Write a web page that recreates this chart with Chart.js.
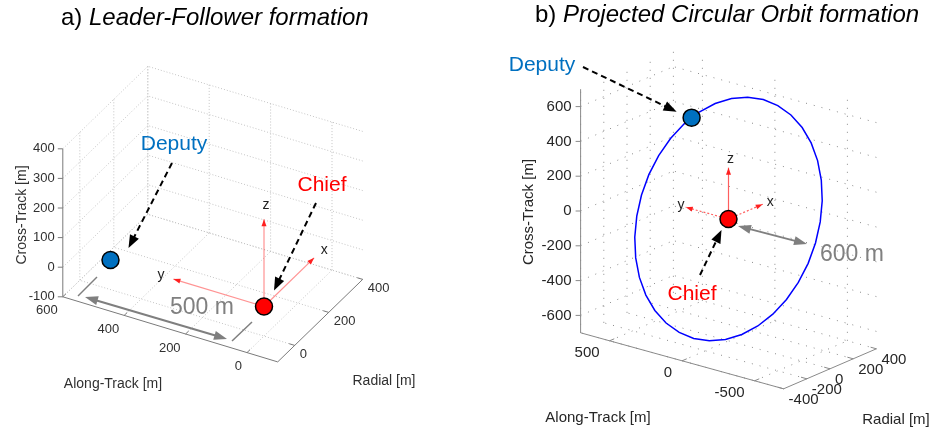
<!DOCTYPE html>
<html>
<head>
<meta charset="utf-8">
<script src="https://cdn.jsdelivr.net/npm/chart.js@4.4.1/dist/chart.umd.min.js"></script>
<style>
  body { margin: 0; background: #fff; }
  #contenedor { position: relative; width: 941px; height: 439px; font-family: "Liberation Sans", Arial, sans-serif; }
  canvas { position: absolute; top: 0; }
  .titulo { position: absolute; font-size: 24px; line-height: 26px; color: #000; white-space: nowrap; }
</style>
</head>
<body>
<div id="contenedor">
  <canvas id="graficoLF" width="470" height="439" style="left:0"></canvas>
  <canvas id="graficoPCO" width="471" height="439" style="left:470px"></canvas>
  <div class="titulo" style="left:61px; top:4px">a) <i>Leader-Follower formation</i></div>
  <div class="titulo" style="left:535px; top:1px">b) <i>Projected Circular Orbit formation</i></div>
</div>
<script>
// Posiciones relativas [along, radial, cross] en metros

// a) Leader-Follower
const deputyLF = [500, 0, 0];
const chiefLF = [0, 0, 0];
const limAlongLF = [-100, 600];
const limRadialLF = [-100, 400];
const limCrossLF = [-100, 400];
const ticksAlongLF = [0, 200, 400, 600];
const ticksRadialLF = [0, 200, 400];
const ticksCrossLF = [-100, 0, 100, 200, 300, 400];

// b) Projected Circular Orbit
const orbitaAlong = [600, 591, 564, 520, 460, 386, 300, 205, 104, 0, -104, -205, -300, -386, -460, -520, -564, -591,
    -600, -591, -564, -520, -460, -386, -300, -205, -104, 0, 104, 205, 300, 386, 460, 520, 564, 591];
const orbitaRadial = [0, 52, 103, 150, 193, 230, 260, 282, 295, 300, 295, 282, 260, 230, 193, 150, 103, 52,
    0, -52, -103, -150, -193, -230, -260, -282, -295, -300, -295, -282, -260, -230, -193, -150, -103, -52];
const orbitaCross = [0, 104, 205, 300, 386, 460, 520, 564, 591, 600, 591, 564, 520, 460, 386, 300, 205, 104,
    0, -104, -205, -300, -386, -460, -520, -564, -591, -600, -591, -564, -520, -460, -386, -300, -205, -104];
const deputyPCO = [424, 212, 424];
const chiefPCO = [0, 0, 0];
const limAlongPCO = [-700, 700];
const limRadialPCO = [-400, 400];
const limCrossPCO = [-700, 700];
const ticksAlongPCO = [-500, 0, 500];
const ticksRadialPCO = [-400, -200, 0, 200, 400];
const ticksCrossPCO = [-600, -400, -200, 0, 200, 400, 600];

// Longitud de los ejes x, y, z del marco del chief
const largoMarco = 295;

const FUENTE = '"Liberation Sans", Arial, sans-serif';

// Vistas: origen (proyeccion del punto 0,0,0) y direccion de cada eje por metro
const vistaLF = { origen: [264, 306.5], along: [-0.307, -0.093], radial: [0.17, -0.165], cross: [0, -0.296] };
const vistaPCO = { origen: [258.5, 219], along: [-0.145, -0.040], radial: [0.116, -0.050], cross: [0, -0.174] };

function proyectar(vista, p) {
    return {
        x: vista.origen[0] + p[0] * vista.along[0] + p[1] * vista.radial[0] + p[2] * vista.cross[0],
        y: vista.origen[1] + p[0] * vista.along[1] + p[1] * vista.radial[1] + p[2] * vista.cross[1]
    };
}

function aPixel(chart, x, y) {
    return [chart.scales.x.getPixelForValue(x), chart.scales.y.getPixelForValue(y)];
}

function punto3D(chart, vista, p) {
    const q = proyectar(vista, p);
    return aPixel(chart, q.x, q.y);
}

function linea(ctx, a, b) {
    ctx.beginPath();
    ctx.moveTo(a[0], a[1]);
    ctx.lineTo(b[0], b[1]);
    ctx.stroke();
}

function cabeza(ctx, desde, hasta, largo, ancho, color) {
    const ang = Math.atan2(hasta[1] - desde[1], hasta[0] - desde[0]);
    ctx.save();
    ctx.translate(hasta[0], hasta[1]);
    ctx.rotate(ang);
    ctx.fillStyle = color;
    ctx.beginPath();
    ctx.moveTo(0, 0);
    ctx.lineTo(-largo, ancho / 2);
    ctx.lineTo(-largo, -ancho / 2);
    ctx.closePath();
    ctx.fill();
    ctx.restore();
}

function flecha(ctx, desde, hasta, o) {
    const dx = hasta[0] - desde[0], dy = hasta[1] - desde[1];
    const L = Math.hypot(dx, dy), ux = dx / L, uy = dy / L;
    const fin = [hasta[0] - ux * o.largo * 0.8, hasta[1] - uy * o.largo * 0.8];
    const ini = o.doble ? [desde[0] + ux * o.largo * 0.8, desde[1] + uy * o.largo * 0.8] : desde;
    ctx.save();
    ctx.strokeStyle = o.color;
    ctx.lineWidth = o.grosor;
    ctx.setLineDash(o.guiones || []);
    linea(ctx, ini, fin);
    ctx.restore();
    cabeza(ctx, desde, hasta, o.largo, o.ancho, o.color);
    if (o.doble) cabeza(ctx, hasta, desde, o.largo, o.ancho, o.color);
}

function texto(ctx, s, x, y, tam, color, align, rot) {
    ctx.save();
    ctx.font = tam + 'px ' + FUENTE;
    ctx.fillStyle = color;
    ctx.textAlign = align || 'center';
    ctx.textBaseline = 'middle';
    ctx.translate(x, y);
    if (rot) ctx.rotate(rot);
    ctx.fillText(s, 0, 0);
    ctx.restore();
}

// Caja 3D estilo MATLAB: rejilla en piso y paredes del fondo, ejes y etiquetas
function pluginEjes(cfg) {
    return {
        id: 'ejes3d',
        beforeDatasetsDraw(chart) {
            const ctx = chart.ctx;
            const P = p => punto3D(chart, cfg.vista, p);
            const [a0, a1] = cfg.limAlong, [r0, r1] = cfg.limRadial, [c0, c1] = cfg.limCross;
            ctx.save();
            ctx.strokeStyle = cfg.colorRejilla;
            ctx.lineWidth = 1;
            ctx.setLineDash(cfg.guionRejilla);
            // piso
            cfg.ticksAlong.forEach(a => linea(ctx, P([a, r0, c0]), P([a, r1, c0])));
            cfg.ticksRadial.forEach(r => linea(ctx, P([a0, r, c0]), P([a1, r, c0])));
            // pared del fondo
            cfg.ticksAlong.forEach(a => linea(ctx, P([a, r1, c0]), P([a, r1, c1])));
            cfg.ticksCross.forEach(c => linea(ctx, P([a0, r1, c]), P([a1, r1, c])));
            // pared izquierda
            cfg.ticksRadial.forEach(r => linea(ctx, P([a1, r, c0]), P([a1, r, c1])));
            cfg.ticksCross.forEach(c => linea(ctx, P([a1, r0, c]), P([a1, r1, c])));
            ctx.setLineDash([]);

            // lineas de los ejes
            ctx.strokeStyle = cfg.colorEje;
            linea(ctx, P([a1, r0, c0]), P([a1, r0, c1]));
            linea(ctx, P([a1, r0, c0]), P([a0, r0, c0]));
            linea(ctx, P([a0, r0, c0]), P([a0, r1, c0]));

            // marcas y etiquetas
            const e = cfg.etiquetas;
            cfg.ticksCross.forEach(c => {
                const q = P([a1, r0, c]);
                linea(ctx, q, [q[0] - 5, q[1]]);
                texto(ctx, String(c), q[0] + e.cross[0], q[1] + e.cross[1], cfg.tamTick, cfg.colorTexto, 'right');
            });
            cfg.ticksAlong.forEach(a => {
                const q = P([a, r0, c0]);
                linea(ctx, q, P([a, r0 + cfg.marca[1], c0]));
                texto(ctx, String(a), q[0] + e.along[0], q[1] + e.along[1], cfg.tamTick, cfg.colorTexto, 'right');
            });
            cfg.ticksRadial.forEach(r => {
                const q = P([a0, r, c0]);
                linea(ctx, q, P([a0 + cfg.marca[0], r, c0]));
                texto(ctx, String(r), q[0] + e.radial[0], q[1] + e.radial[1], cfg.tamTick, cfg.colorTexto, 'left');
            });

            // titulos de los ejes
            const t = cfg.titulos;
            texto(ctx, 'Cross-Track [m]', t.cross[0], t.cross[1], cfg.tamTitulo, cfg.colorTexto, 'center', -Math.PI / 2);
            texto(ctx, 'Along-Track [m]', t.along[0], t.along[1], cfg.tamTitulo, cfg.colorTexto, 'center');
            texto(ctx, 'Radial [m]', t.radial[0], t.radial[1], cfg.tamTitulo, cfg.colorTexto, 'center');
            ctx.restore();
        },
        afterDatasetsDraw(chart) {
            cfg.anotar(chart);
        }
    };
}

// Ejes x (radial), y (along), z (cross) del marco del chief
function extremosMarco(chief) {
    return [
        ['x', [chief[0], chief[1] + largoMarco, chief[2]]],
        ['y', [chief[0] + largoMarco, chief[1], chief[2]]],
        ['z', [chief[0], chief[1], chief[2] + largoMarco]]
    ];
}

function datasetsMarco(vista, chief, color, guionesXY) {
    return extremosMarco(chief).map(([nombre, fin]) => ({
        data: [proyectar(vista, chief), proyectar(vista, fin)],
        showLine: true,
        borderColor: color,
        borderWidth: 1.2,
        borderDash: nombre === 'z' ? [] : guionesXY,
        pointRadius: 0
    }));
}

function anotarMarco(chart, vista, chief) {
    const ctx = chart.ctx;
    const centro = punto3D(chart, vista, chief);
    extremosMarco(chief).forEach(([nombre, fin]) => {
        const punta = punto3D(chart, vista, fin);
        cabeza(ctx, centro, punta, 7, 5, '#ff2020');
        const k = 1.16;
        const et = punto3D(chart, vista, [chief[0] + (fin[0] - chief[0]) * k, chief[1] + (fin[1] - chief[1]) * k, chief[2] + (fin[2] - chief[2]) * k]);
        texto(ctx, nombre, et[0] + 2, et[1], 14, '#222', 'center');
    });
}

function marcador(vista, p, color) {
    return {
        data: [proyectar(vista, p)],
        pointRadius: 8.5,
        pointBackgroundColor: color,
        pointBorderColor: '#000',
        pointBorderWidth: 1.5
    };
}

const cfgLF = {
    vista: vistaLF,
    limAlong: limAlongLF, limRadial: limRadialLF, limCross: limCrossLF,
    ticksAlong: ticksAlongLF, ticksRadial: ticksRadialLF, ticksCross: ticksCrossLF,
    colorRejilla: '#c4c4c4', guionRejilla: [1, 2], colorEje: '#7a7a7a', colorTexto: '#303030',
    tamTick: 13, tamTitulo: 14, marca: [18, 18],
    etiquetas: { cross: [-8, 0], along: [-5, 14], radial: [5, 9] },
    titulos: { cross: [22, 215], along: [113, 384], radial: [384, 381] },
    anotar(chart) {
        const ctx = chart.ctx;
        const dep = punto3D(chart, vistaLF, deputyLF);
        const chi = punto3D(chart, vistaLF, chiefLF);
        const V = (x, y) => aPixel(chart, x, y);
        anotarMarco(chart, vistaLF, chiefLF);
        const negra = { color: '#000', grosor: 2, guiones: [6, 4], largo: 13, ancho: 10 };
        texto(ctx, 'Deputy', ...V(174, 144), 21, '#0070C0');
        flecha(ctx, V(172, 163), [dep[0] + 18, dep[1] - 12], negra);
        texto(ctx, 'Chief', ...V(322, 185), 21, '#ff0000');
        flecha(ctx, V(316, 203), [chi[0] + 10, chi[1] - 16], negra);
        // cota de 500 m
        const gris = { color: '#7f7f7f', grosor: 2, largo: 13, ancho: 9, doble: true };
        flecha(ctx, V(85, 297), V(227, 339), gris);
        ctx.save();
        ctx.strokeStyle = '#7f7f7f';
        ctx.lineWidth = 1.5;
        linea(ctx, V(78, 296), V(97, 277));
        linea(ctx, V(232, 341), V(252, 322));
        ctx.restore();
        texto(ctx, '500 m', ...V(202, 308), 23, '#808080');
    }
};

const cfgPCO = {
    vista: vistaPCO,
    limAlong: limAlongPCO, limRadial: limRadialPCO, limCross: limCrossPCO,
    ticksAlong: ticksAlongPCO, ticksRadial: ticksRadialPCO, ticksCross: ticksCrossPCO,
    colorRejilla: '#8a8a8a', guionRejilla: [1, 7], colorEje: '#8a8a8a', colorTexto: '#262626',
    tamTick: 15, tamTitulo: 15, marca: [40, 40],
    etiquetas: { cross: [-9, 0], along: [-10, 12], radial: [5, 11] },
    titulos: { cross: [59, 212], along: [128, 418], radial: [426, 420] },
    anotar(chart) {
        const ctx = chart.ctx;
        const dep = punto3D(chart, vistaPCO, deputyPCO);
        const chi = punto3D(chart, vistaPCO, chiefPCO);
        const V = (x, y) => aPixel(chart, x, y);
        anotarMarco(chart, vistaPCO, chiefPCO);
        const negra = { color: '#000', grosor: 2, guiones: [6, 4], largo: 13, ancho: 10 };
        texto(ctx, 'Deputy', ...V(72, 65), 21, '#0070C0');
        flecha(ctx, V(113, 67), [dep[0] - 15, dep[1] - 6], negra);
        texto(ctx, 'Chief', ...V(222, 294), 21, '#ff0000');
        flecha(ctx, V(230, 275), [chi[0] - 7, chi[1] + 11], negra);
        const gris = { color: '#7f7f7f', grosor: 2, largo: 13, ancho: 9, doble: true };
        flecha(ctx, V(268, 226), V(337, 244), gris);
        texto(ctx, '600 m', ...V(382, 255), 23, '#808080');
    }
};

function opciones(ancho) {
    return {
        responsive: false,
        animation: false,
        events: [],
        devicePixelRatio: 1,
        layout: { padding: 0, autoPadding: false },
        plugins: { legend: { display: false }, tooltip: { enabled: false } },
        scales: {
            x: { type: 'linear', display: false, min: 0, max: ancho, bounds: 'data' },
            y: { type: 'linear', display: false, min: 0, max: 439, reverse: true, bounds: 'data' }
        }
    };
}

// a) Leader-Follower
new Chart(document.getElementById('graficoLF'), {
    type: 'scatter',
    data: {
        datasets: [
            marcador(vistaLF, deputyLF, '#0070C0'),
            marcador(vistaLF, chiefLF, '#ff0000'),
            ...datasetsMarco(vistaLF, chiefLF, 'rgba(255, 40, 40, 0.5)', [])
        ]
    },
    options: opciones(470),
    plugins: [pluginEjes(cfgLF)]
});

// b) Projected Circular Orbit
const puntosOrbita = orbitaAlong.map((a, i) => proyectar(vistaPCO, [a, orbitaRadial[i], orbitaCross[i]]));
puntosOrbita.push(puntosOrbita[0]);

new Chart(document.getElementById('graficoPCO'), {
    type: 'scatter',
    data: {
        datasets: [
            marcador(vistaPCO, deputyPCO, '#0070C0'),
            marcador(vistaPCO, chiefPCO, '#ff0000'),
            ...datasetsMarco(vistaPCO, chiefPCO, 'rgba(255, 40, 40, 0.75)', [2, 2]),
            {
                data: puntosOrbita,
                showLine: true,
                borderColor: '#0000ff',
                borderWidth: 1.5,
                pointRadius: 0,
                tension: 0
            }
        ]
    },
    options: opciones(471),
    plugins: [pluginEjes(cfgPCO)]
});
</script>
</body>
</html>
